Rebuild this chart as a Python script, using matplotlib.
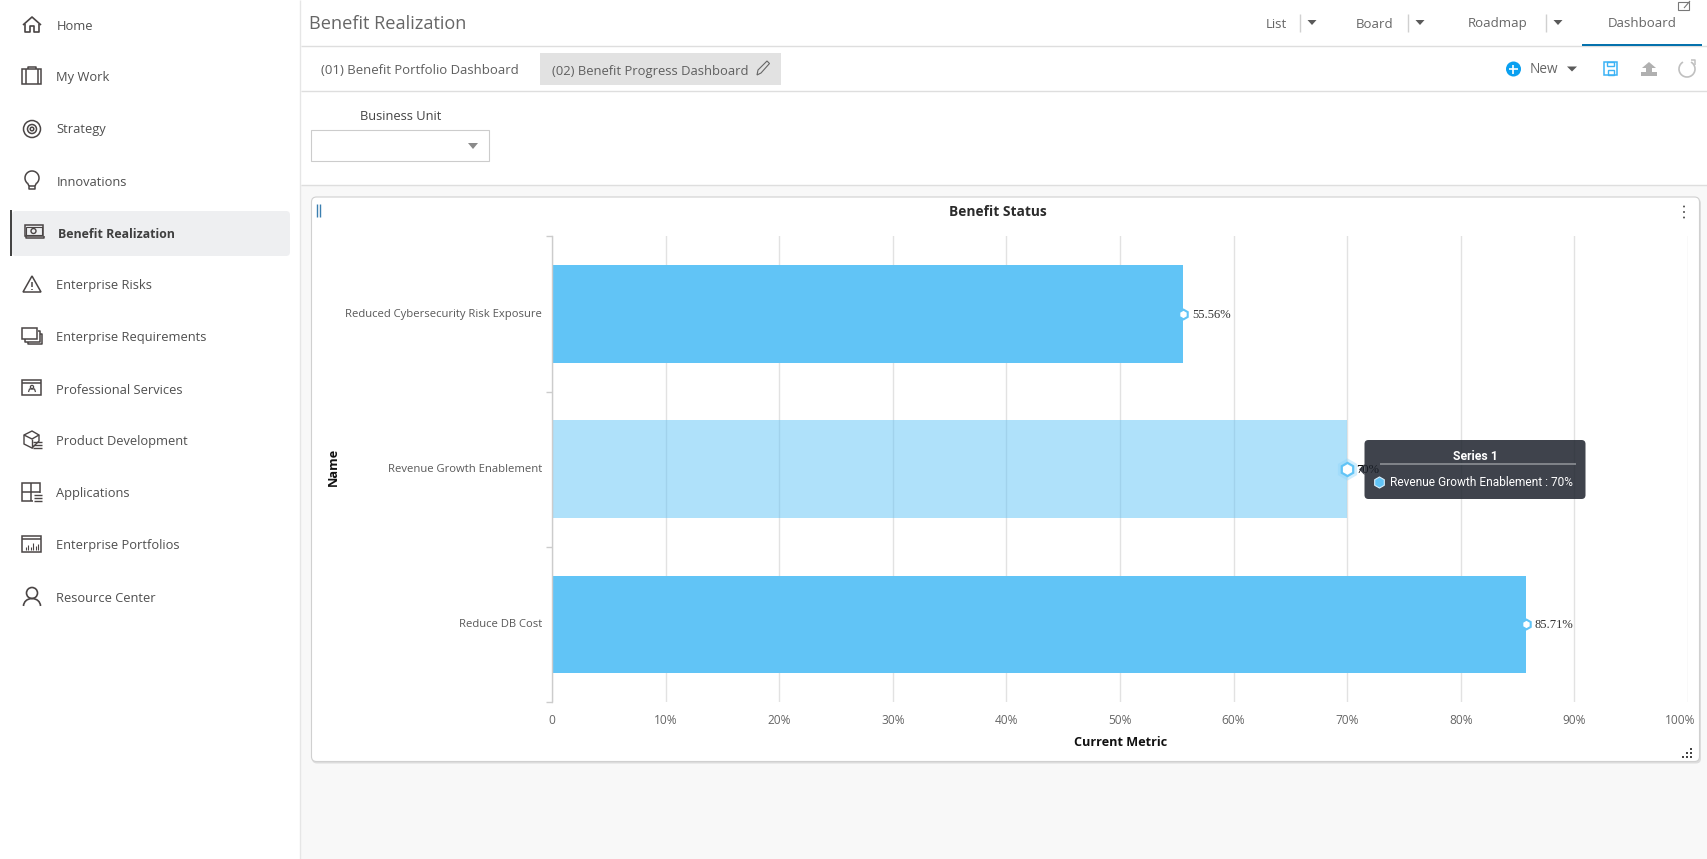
import matplotlib
matplotlib.use("Agg")
import matplotlib.pyplot as plt
from matplotlib.patches import Rectangle, FancyBboxPatch, Circle, Polygon, Arc
from matplotlib.transforms import ScaledTranslation

# ---- data ----
categories = ["Reduced Cybersecurity Risk Exposure", "Revenue Growth Enablement", "Reduce DB Cost"]
values = [55.56, 70, 85.71]
value_labels = ["55.56%", "70%", "85.71%"]
x_ticks = [0, 10, 20, 30, 40, 50, 60, 70, 80, 90, 100]
x_tick_labels = ["0", "10%", "20%", "30%", "40%", "50%", "60%", "70%", "80%", "90%", "100%"]
highlighted = "Revenue Growth Enablement"
nav_items = ["Home", "My Work", "Strategy", "Innovations", "Benefit Realization", "Enterprise Risks",
             "Enterprise Requirements", "Professional Services", "Product Development",
             "Applications", "Enterprise Portfolios", "Resource Center"]

W, H = 1708, 859
UI = "Open Sans"
fig = plt.figure(figsize=(W / 100, H / 100), dpi=100, facecolor="white")

def px_axes(z):
    a = fig.add_axes([0, 0, 1, 1], zorder=z)
    a.set_xlim(0, W); a.set_ylim(H, 0); a.axis("off"); a.patch.set_alpha(0)
    return a

bg = px_axes(0)
ICON = "#4a4545"

def line(a, xs, ys, c=ICON, lw=1.1, z=3):
    a.plot(xs, ys, color=c, lw=lw, solid_capstyle="butt", zorder=z)

def box(a, x, y, w, h, fc="none", ec=ICON, lw=1.1, z=3):
    a.add_patch(Rectangle((x, y), w, h, fc=fc, ec=ec, lw=lw, zorder=z))

def tri(a, cx, cy, w=9, h=5, c="#5a5a5a"):
    a.add_patch(Polygon([(cx - w / 2, cy - h / 2), (cx + w / 2, cy - h / 2), (cx, cy + h / 2)], fc=c, ec="none", zorder=4))

def txt(a, x, y, s, size=10, c="#555555", ha="left", weight="normal", fam=UI, **kw):
    return a.text(x, y + 1.5, s, fontsize=size, color=c, ha=ha, va="center", fontweight=weight, family=fam, **kw)

# ---- page backgrounds ----
bg.add_patch(Rectangle((300, 185), W - 300, H - 185, fc="#f8f8f8", ec="none", zorder=0))
line(bg, [300.5, 300.5], [0, H], c="#e6e6e6", lw=1.0, z=1)
for yy in (46, 91, 185):
    line(bg, [301, W], [yy, yy], c="#dedede", lw=1.0, z=1)

# ---- sidebar ----
nav_y = [25 + 52 * i for i in range(len(nav_items))]
bg.add_patch(FancyBboxPatch((12, 211), 278, 45, boxstyle="round,pad=0,rounding_size=4", fc="#eeeff1", ec="none", zorder=1))
bg.add_patch(Rectangle((10, 210), 2, 46, fc="#444444", ec="none", zorder=2))
for name, yy in zip(nav_items, nav_y):
    active = name == "Benefit Realization"
    txt(bg, 58 if active else 56.5, yy - 0.5, name, size=8.95 if active else 9.25, c="#3f3f3f" if active else "#4f4f4f",
        weight="bold" if active else "normal")

# icons
y = nav_y[0]
line(bg, [23, 32, 41], [y, y - 8, y], lw=1.2)
line(bg, [25, 25, 30, 30, 34, 34, 39, 39], [y - 1, y + 7, y + 7, y + 1, y + 1, y + 7, y + 7, y - 1], lw=1.2)
y = nav_y[1]
box(bg, 22.5, y - 8, 19, 15); line(bg, [26, 26], [y - 8, y + 7]); line(bg, [38, 38], [y - 8, y + 7])
line(bg, [28, 28, 36, 36], [y - 8, y - 10, y - 10, y - 8])
y = nav_y[2]
for r in (8.5, 4.5, 1.8):
    bg.add_patch(Circle((32, y), r, fc="none", ec=ICON, lw=1.1, zorder=3))
y = nav_y[3]
bg.add_patch(Arc((32, y - 3), 14, 14, theta1=130, theta2=50, ec=ICON, lw=1.1, zorder=3))
line(bg, [27.5, 29, 29, 35, 35, 36.5], [y + 2, y + 5, y + 8, y + 8, y + 5, y + 2])
line(bg, [29, 35], [y + 5, y + 5])
y = nav_y[4]
box(bg, 25, y - 8, 18, 11); box(bg, 26, y - 6, 16, 8, lw=0.8)
bg.add_patch(Circle((33.5, y - 2), 2.5, fc="none", ec=ICON, lw=1, zorder=3))
line(bg, [26, 26, 44, 44], [y + 3, y + 5, y + 5, y + 3])
y = nav_y[5]
bg.add_patch(Polygon([(23, y + 7), (32, y - 9), (41, y + 7)], fc="none", ec=ICON, lw=1.1, zorder=3))
line(bg, [32, 32], [y - 3, y + 2]); line(bg, [32, 32], [y + 3.5, y + 5])
y = nav_y[6]
box(bg, 22.5, y - 9, 15, 11); line(bg, [25, 25, 40, 40, 38], [y + 2, y + 5, y + 5, y - 6, y - 6]); line(bg, [28, 28, 42, 42, 40], [y + 5, y + 7, y + 7, y - 3, y - 3])
y = nav_y[7]
box(bg, 22.5, y - 9, 19, 15); line(bg, [22.5, 41.5], [y - 6, y - 6])
bg.add_patch(Circle((32, y - 2), 1.6, fc="none", ec=ICON, lw=0.9, zorder=3)); line(bg, [28.5, 29.5, 34.5, 35.5], [y + 3, y, y, y + 3], lw=0.9)
y = nav_y[8]
bg.add_patch(Polygon([(24, y - 6), (32, y - 10), (39, y - 6), (39, y), (32, y + 7), (24, y + 3)], fc="none", ec=ICON, lw=1.0, zorder=3))
line(bg, [24, 32, 39], [y - 6, y - 2, y - 6], lw=1); line(bg, [32, 32], [y - 2, y + 7], lw=1)
for d in (1, 4, 7):
    line(bg, [33, 42], [y + d, y + d], lw=1)
y = nav_y[9]
box(bg, 22.5, y - 10, 18, 18); line(bg, [31.5, 31.5], [y - 10, y + 8]); line(bg, [22.5, 40.5], [y - 1, y - 1])
bg.add_patch(Rectangle((33, y), 10, 9, fc="white", ec="none", zorder=3.5))
for d in (2, 5, 8):
    line(bg, [34, 42], [y + d, y + d], lw=1, z=4)
y = nav_y[10]
box(bg, 22.5, y - 9, 19, 16); line(bg, [22.5, 41.5], [y - 6, y - 6])
for k, hh in enumerate((3, 5, 3, 7, 4, 6)):
    line(bg, [26 + 2.4 * k] * 2, [y + 5, y + 5 - hh], lw=0.8)
y = nav_y[11]
bg.add_patch(Circle((32, y - 4), 5.5, fc="none", ec=ICON, lw=1.2, zorder=3))
bg.add_patch(Arc((32, y + 9), 17, 15, theta1=180, theta2=360, ec=ICON, lw=1.2, zorder=3))

# ---- header ----
txt(bg, 309.5, 22.5, "Benefit Realization", size=13.05, c="#666666")
for s, xx in (("List", 1266), ("Board", 1356), ("Roadmap", 1468), ("Dashboard", 1608)):
    txt(bg, xx, 22.5 if s != "Dashboard" else 22, s, size=9.5, c="#666666")
for sx in (1300, 1408, 1546):
    line(bg, [sx, sx], [14, 32], c="#d0d0d0", lw=1)
    tri(bg, sx + 12, 22.5)
bg.add_patch(Rectangle((1582, 44), 120, 2, fc="#0572ad", ec="none", zorder=3))
box(bg, 1678.5, 2, 11, 8, ec="#777777", lw=0.8); line(bg, [1684, 1690], [8, 1], c="#777777", lw=0.8)

# ---- tabs ----
txt(bg, 321, 68.5, "(01) Benefit Portfolio Dashboard", size=9.45, c="#5f5f5f")
bg.add_patch(Rectangle((540, 53), 241, 32, fc="#e2e2e2", ec="none", zorder=1))
txt(bg, 552, 69.5, "(02) Benefit Progress Dashboard", size=9.4, c="#5f5f5f")
bg.add_patch(Polygon([(757, 75), (758, 70), (767, 61), (769.5, 63.5), (761, 73)], fc="none", ec="#666666", lw=0.8, zorder=3))
bg.add_patch(Circle((1513.5, 69), 7.5, fc="#0aa0f0", ec="none", zorder=3))
line(bg, [1509, 1518], [69, 69], c="white", lw=1.2, z=4); line(bg, [1513.5, 1513.5], [64.5, 73.5], c="white", lw=1.2, z=4)
txt(bg, 1530, 68, "New", size=9.8, c="#666666")
tri(bg, 1572, 69, w=10, h=5)
box(bg, 1604.5, 62, 13, 13, ec="#3db3f5", lw=1.1); box(bg, 1607.5, 62, 7, 4, ec="#3db3f5", lw=1); box(bg, 1608, 70, 6, 5, ec="#3db3f5", lw=1)
bg.add_patch(Polygon([(1649, 62), (1656, 68), (1652, 68), (1652, 72), (1646, 72), (1646, 68), (1642, 68)], fc="#b0b0b0", ec="none", zorder=3))
bg.add_patch(Rectangle((1641, 72), 16, 4, fc="#b0b0b0", ec="none", zorder=3))
bg.add_patch(Arc((1687, 69), 16, 16, theta1=-60, theta2=240, ec="#c0c0c0", lw=1.2, zorder=3))
line(bg, [1691, 1695, 1695], [60, 60, 65], c="#c0c0c0", lw=1.1)

# ---- filter ----
txt(bg, 400.5, 115.5, "Business Unit", size=9.3, c="#444444", ha="center")
box(bg, 311, 130, 178, 31, ec="#cccccc", fc="white", lw=0.8, z=2)
tri(bg, 473, 146, w=10, h=6, c="#8a8a8a")

# ---- card ----
bg.add_patch(FancyBboxPatch((312, 198.5), 1389, 565, boxstyle="round,pad=0,rounding_size=5", fc="#dddddd", ec="none", zorder=1.5))
bg.add_patch(FancyBboxPatch((311.5, 197), 1388, 564.5, boxstyle="round,pad=0,rounding_size=5", fc="white", ec="#d0d0d0", lw=0.8, zorder=2))
txt(bg, 997.5, 210, "Benefit Status", size=9.9, c="#2b2b2b", ha="center", weight="bold")
line(bg, [317.5, 317.5], [204, 217], c="#3b7fb0", lw=1, z=3); line(bg, [320.5, 320.5], [204, 217], c="#3b7fb0", lw=1, z=3)
for yy in (206.5, 212, 217.5):
    bg.add_patch(Circle((1684, yy), 1, fc="#555555", ec="none", zorder=3))
for dx, dy in ((0, 0), (-4, 0), (-8, 0), (0, -4), (-4, -4), (0, -8)):
    bg.add_patch(Rectangle((1690 + dx, 756 + dy), 2, 2, fc="#444444", ec="none", zorder=3))

# ---- chart ----
AX_L, AX_R, AX_T, AX_B = 552, 1688, 236.5, 702
ax = fig.add_axes([AX_L / W, 1 - AX_B / H, (AX_R - AX_L) / W, (AX_B - AX_T) / H], zorder=1)
ax.patch.set_alpha(0)
ypos = list(range(len(categories)))
BLUE = "#61c4f6"
alphas = [0.5 if c == highlighted else 1.0 for c in categories]
for yp, v, cat, al in zip(ypos, values, categories, alphas):
    ax.barh(yp, v, height=0.63, color=BLUE, alpha=al, linewidth=0, zorder=2)

ax.set_xlim(0, 100)
ax.set_ylim(len(categories) - 0.5, -0.5)
ax.set_axisbelow(True)
ax.set_xticks(x_ticks)
ax.set_xticklabels(x_tick_labels, fontsize=8.6, family=UI, color="#666666")
ax.set_yticks(ypos)
ax.set_yticklabels(categories, fontsize=8.08, family=UI, color="#595959")
ax.set_yticks([p - 0.5 for p in ypos] + [len(ypos) - 0.5], minor=True)
ax.tick_params(axis="x", which="major", length=0, pad=8.5)
ax.tick_params(axis="y", which="major", length=0, pad=7.2)
ax.tick_params(axis="y", which="minor", length=4, width=1.0, color="#cccccc")
ax.grid(axis="x", color="#e2e2e2", lw=1.0, zorder=1)
for side in ("top", "right", "bottom"):
    ax.spines[side].set_visible(False)
ax.spines["left"].set_color("#cccccc")
ax.spines["left"].set_linewidth(1.0)
# last tick label is pushed inside the card
last = ax.get_xticklabels()[-1]
last.set_transform(last.get_transform() + ScaledTranslation(-8 / 100, 0, fig.dpi_scale_trans))
for lab in ax.get_yticklabels():
    lab.set_transform(lab.get_transform() + ScaledTranslation(0, 1 / 100, fig.dpi_scale_trans))

for yp, v, lab, cat in zip(ypos, values, value_labels, categories):
    hi = cat == highlighted
    if hi:
        ax.plot(v, yp, marker="h", ms=16, mfc="#8fd6fa", mec="none", alpha=0.4, zorder=4, clip_on=False)
        ax.plot(v, yp, marker="h", ms=9.5, mfc="white", mec=BLUE, mew=1.6, zorder=5, clip_on=False)
    else:
        ax.plot(v, yp, marker="h", ms=7, mfc="white", mec=BLUE, mew=1.5, zorder=5, clip_on=False)
    ax.annotate(lab, (v, yp), xytext=(6.6, -0.7), textcoords="offset points", va="center", ha="left",
                fontsize=9, family="Liberation Serif", color="#000000" if hi else "#333333", zorder=6)

txt(bg, 333, 465.5, "Name", size=9.2, c="#111111", ha="center", weight="bold", rotation=90)
txt(bg, 1121, 741.5, "Current Metric", size=9.1, c="#111111", ha="center", weight="bold")

# ---- tooltip overlay ----
ov = px_axes(3)
TIP = "#1d222c"
ov.add_patch(FancyBboxPatch((1364.5, 440), 221, 59, boxstyle="round,pad=0,rounding_size=4", fc=TIP, ec="none", alpha=0.85, zorder=2))
ov.add_patch(Polygon([(1364.5, 464), (1359, 469.5), (1364.5, 475)], fc=TIP, ec="none", alpha=0.85, zorder=2))
txt(ov, 1475, 455, "Series 1", size=8.8, c="white", ha="center", weight="bold", fam="Roboto", zorder=3)
line(ov, [1380, 1576], [463.5, 463.5], c="#8c8f95", lw=1.2, z=3)
ov.plot([1379], [482], marker="h", ms=8, mfc=BLUE, mec="#d8eefb", mew=0.8, zorder=3)
txt(ov, 1390, 481, "Revenue Growth Enablement : 70%", size=8.6, c="white", fam="Roboto", zorder=3)

fig.savefig("out.png", dpi=100)
